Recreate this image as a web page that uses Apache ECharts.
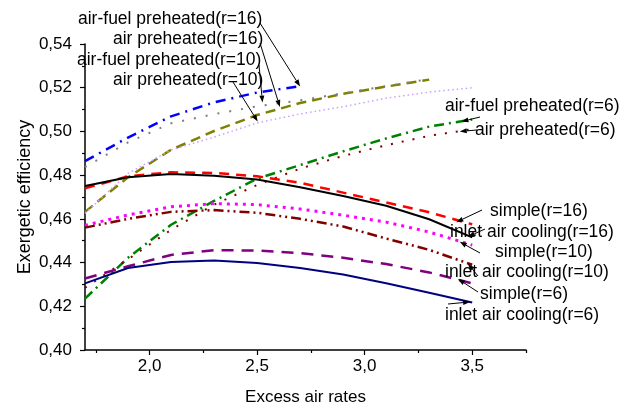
<!DOCTYPE html>
<html>
<head>
<meta charset="utf-8">
<script src="https://cdn.jsdelivr.net/npm/echarts@6/dist/echarts.min.js"></script>
<style>html,body{margin:0;padding:0;background:#fff}#c{width:630px;height:411px}</style>
</head>
<body>
<div id="c"></div>
<script>
// ---------- data ----------
const excessAir = [1.7, 1.9, 2.1, 2.3, 2.5, 2.7, 2.9, 3.1, 3.3, 3.5];
const xMajorTicks = [2.0, 2.5, 3.0, 3.5];
const xMinorTicks = [1.75, 2.25, 2.75, 3.25, 3.75];

const airFuelPreheated16 = [0.4864, 0.4972, 0.5069, 0.5133, 0.5178, 0.5207];
const airPreheated16     = [0.4632, 0.4790, 0.4916, 0.5002, 0.5075, 0.5130, 0.5172, 0.5205, 0.5237];
const airFuelPreheated10 = [0.4837, 0.4950, 0.5037, 0.5079, 0.5115, 0.5142, 0.5175, 0.5207, 0.5240];
const airPreheated10     = [0.4625, 0.4808, 0.4915, 0.4974, 0.5039, 0.5080, 0.5113, 0.5152, 0.5180, 0.5200];
const airFuelPreheated6  = [0.4235, 0.4422, 0.4573, 0.4682, 0.4784, 0.4846, 0.4909, 0.4968, 0.5022, 0.5055];
const airPreheated6      = [0.4285, 0.4415, 0.4550, 0.4665, 0.4755, 0.4830, 0.4888, 0.4937, 0.4980, 0.5010];
const simple16           = [0.4740, 0.4795, 0.4813, 0.4810, 0.4795, 0.4765, 0.4720, 0.4675, 0.4630, 0.4575];
const inletCooling16     = [0.4750, 0.4790, 0.4805, 0.4797, 0.4780, 0.4745, 0.4705, 0.4660, 0.4598, 0.4515];
const simple10           = [0.4570, 0.4618, 0.4655, 0.4670, 0.4665, 0.4645, 0.4617, 0.4585, 0.4540, 0.4480];
const inletCooling10     = [0.4560, 0.4600, 0.4632, 0.4640, 0.4628, 0.4600, 0.4565, 0.4510, 0.4458, 0.4390];
const simple6            = [0.4327, 0.4383, 0.4435, 0.4457, 0.4455, 0.4443, 0.4422, 0.4393, 0.4355, 0.4305];
const inletCooling6      = [0.4305, 0.4375, 0.4403, 0.4410, 0.4398, 0.4375, 0.4345, 0.4305, 0.4262, 0.4217];

const seriesNames = ['air-fuel preheated(r=16)','air preheated(r=16)','air-fuel preheated(r=10)','air preheated(r=10)',
  'air-fuel preheated(r=6)','air preheated(r=6)','simple(r=16)','inlet air cooling(r=16)','simple(r=10)',
  'inlet air cooling(r=10)','simple(r=6)','inlet air cooling(r=6)'];
const seriesValues = [airFuelPreheated16, airPreheated16, airFuelPreheated10, airPreheated10, airFuelPreheated6,
  airPreheated6, simple16, inletCooling16, simple10, inletCooling10, simple6, inletCooling6];

// ---------- styles ----------
const styles = [
  {color:'#0000ff', width:2.5, type:[10,6,2,6]},
  {color:'#808000', width:2.5, type:[10,6]},
  {color:'#808080', width:2, type:[2,10]},
  {color:'#c9a0ff', width:1.5, type:[1.5,3]},
  {color:'#008000', width:2.5, type:[10,5,2,5]},
  {color:'#800000', width:2, type:[2,9]},
  {color:'#ff0000', width:2.5, type:[10,7]},
  {color:'#000000', width:2, type:'solid'},
  {color:'#ff00ff', width:3, type:[3,5]},
  {color:'#800000', width:2.5, type:[10,4,2,4,2,4]},
  {color:'#800080', width:2.5, type:[12,8]},
  {color:'#000080', width:2, type:'solid'}
];

// annotations: text, text left/center-y (layout), arrow start (layout), arrow tip in data coords
const annotations = [
  {text:'air-fuel preheated(r=16)', x:78,  y:19,  from:[260,23],  tip:[2.70, 0.5205]},
  {text:'air preheated(r=16)',      x:113, y:39,  from:[260,43],  tip:[2.606, 0.5112]},
  {text:'air-fuel preheated(r=10)', x:77,  y:60,  from:[259,65],  tip:[2.525, 0.5132]},
  {text:'air preheated(r=10)',      x:113, y:80,  from:[233,82],  tip:[2.503, 0.5045]},
  {text:'air-fuel preheated(r=6)',  x:445, y:106, from:[480,117], tip:[3.45, 0.5045]},
  {text:'air preheated(r=6)',       x:475, y:130, from:[477,130], tip:[3.442, 0.5000]},
  {text:'simple(r=16)',             x:490, y:211, from:[482,210], tip:[3.426, 0.4585]},
  {text:'inlet air cooling(r=16)',  x:450, y:232, from:[485,229], tip:[3.48, 0.4518]},
  {text:'simple(r=10)',             x:495, y:252, from:[480,253], tip:[3.442, 0.4495]},
  {text:'inlet air cooling(r=10)',  x:445, y:272, from:[478,276], tip:[3.48, 0.4395]},
  {text:'simple(r=6)',              x:480, y:294, from:[478,292], tip:[3.434, 0.4325]},
  {text:'inlet air cooling(r=6)',   x:445, y:315, from:[448,304], tip:[3.49, 0.4220]}
];

const FONT = 'Liberation Sans, Arial, sans-serif';
const chart = echarts.init(document.getElementById('c'), null, {renderer:'canvas'});

const series = seriesValues.map((vals, i) => ({
  name: seriesNames[i],
  type: 'line',
  data: vals.map((v, k) => [excessAir[k], v]),
  showSymbol: false,
  symbol: 'none',
  clip: false,
  lineStyle: {color: styles[i].color, width: styles[i].width, type: styles[i].type, cap: 'butt'},
  itemStyle: {color: styles[i].color},
  z: 2
}));

const fmtX = v => v.toFixed(1).replace('.', ',');
const fmtY = v => v.toFixed(2).replace('.', ',');

chart.setOption({
  animation: false,
  backgroundColor: '#ffffff',
  grid: {left: 85, right: 104, top: 44, bottom: 55, containLabel: false},
  xAxis: [{
    type: 'value', min: 1.7, max: 3.75, position: 'bottom',
    name: 'Excess air rates', nameLocation: 'middle', nameGap: 39, nameMoveOverlap: false,
    nameTextStyle: {fontFamily: FONT, fontSize: 17, color: '#000'},
    axisLine: {show: true, onZero: false, lineStyle: {color: '#000', width: 1.5}},
    axisTick: {show: true, customValues: xMajorTicks, length: 5, inside: false, lineStyle: {color: '#000', width: 1.2}},
    axisLabel: {show: true, customValues: xMajorTicks, margin: 8, formatter: fmtX, fontFamily: FONT, fontSize: 17, color: '#000'},
    splitLine: {show: false}
  }, {
    type: 'value', min: 1.7, max: 3.75, position: 'bottom', offset: 0,
    axisLine: {show: false},
    axisTick: {show: true, customValues: xMinorTicks, length: 3, lineStyle: {color: '#000', width: 1.2}},
    axisLabel: {show: false},
    splitLine: {show: false}
  }],
  yAxis: {
    type: 'value', min: 0.40, max: 0.54, interval: 0.02,
    name: 'Exergetic efficiency', nameLocation: 'middle', nameGap: 51, nameRotate: 90, nameMoveOverlap: false,
    nameTextStyle: {fontFamily: FONT, fontSize: 18, color: '#000'},
    axisLine: {show: true, onZero: false, lineStyle: {color: '#000', width: 1.5}},
    axisTick: {show: true, length: 5, lineStyle: {color: '#000', width: 1.2}},
    minorTick: {show: true, splitNumber: 2, length: 3, lineStyle: {color: '#000', width: 1.2}},
    axisLabel: {margin: 13, formatter: fmtY, fontFamily: FONT, fontSize: 17, color: '#000'},
    splitLine: {show: false}
  },
  series: series
});

// annotation graphics (arrow tips anchored in data space)
const graphics = [];
annotations.forEach(a => {
  graphics.push({type:'text', left: a.x, top: a.y - 9, z: 10,
    style:{text: a.text, fontFamily: FONT, fontSize: 17.5, fill: '#000'}});
  const tip = chart.convertToPixel({gridIndex: 0}, a.tip);
  const [x0, y0] = a.from;
  const dx = tip[0] - x0, dy = tip[1] - y0;
  const len = Math.sqrt(dx*dx + dy*dy) || 1;
  const ux = dx/len, uy = dy/len;
  const hl = 7, hw = 2.5;
  const bx = tip[0] - ux*hl, by = tip[1] - uy*hl;
  graphics.push({type:'line', z: 11, shape:{x1:x0, y1:y0, x2:bx, y2:by}, style:{stroke:'#000', lineWidth:1}});
  graphics.push({type:'polygon', z: 11, shape:{points:[[tip[0],tip[1]],[bx - uy*hw, by + ux*hw],[bx + uy*hw, by - ux*hw]]}, style:{fill:'#000'}});
});
chart.setOption({graphic: graphics});
</script>
</body>
</html>
